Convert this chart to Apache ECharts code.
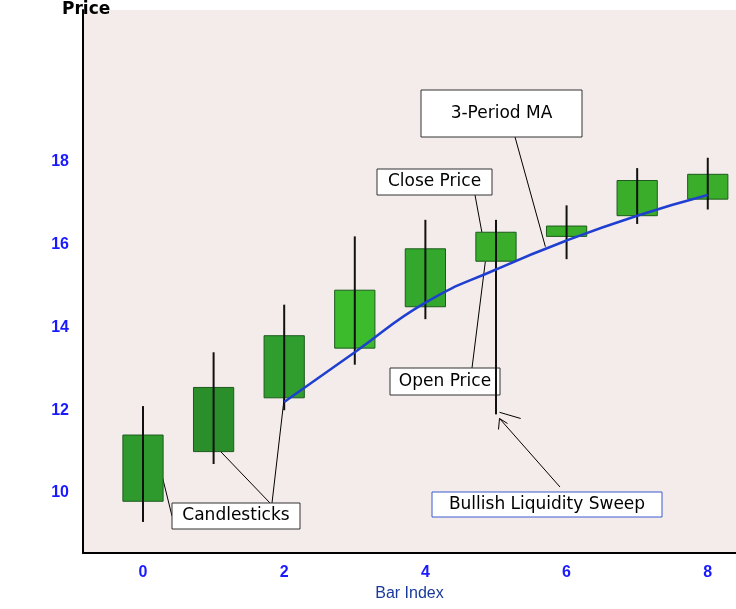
<!DOCTYPE html><html><head><meta charset="utf-8">
<script src="https://cdn.jsdelivr.net/npm/echarts@6/dist/echarts.min.js"></script>
<style>html,body{margin:0;background:#fff}#c{width:736px;height:609px}</style></head><body><div id="c"></div>
<script>
const barIndex=[0,1,2,3,4,5,6,7,8];
const openP =[9.8,11.0,12.3,13.5,14.5,15.6,16.2,16.7,17.1];
const closeP=[11.4,12.55,13.8,14.9,15.9,16.3,16.45,17.55,17.7];
const lowP  =[9.3,10.7,12.0,13.1,14.2,11.9,15.65,16.5,16.85];
const highP =[12.1,13.4,14.55,16.2,16.6,16.6,16.95,17.85,18.1];
const maX=[2,3,4,5,6,7,8];
const maY=[12.2,13.4,14.6,15.4,16.1,16.7,17.2];
const yTicks=[10,12,14,16,18];
const xTicks=[0,2,4,6,8];
const fills=['#2e9a2e','#2a8f2a','#2f9e2f','#3cbc2c','#33a82d','#3aae2a','#3aae2a','#3aae2a','#3aae2a'];
const candles=barIndex.map((x,i)=>[x,openP[i],closeP[i],lowP[i],highP[i]]);
const chart=echarts.init(document.getElementById('c'));
function box(x,y,w,h,text,border){return {type:'group',children:[
 {type:'rect',shape:{x:x,y:y,width:w,height:h},style:{fill:'#fff',stroke:border||'#333',lineWidth:1}},
 {type:'text',style:{x:x+w/2,y:y+h/2,text:text,align:'center',verticalAlign:'middle',font:'17px "DejaVu Sans"',fill:'#000'}}]};}
function ln(x1,y1,x2,y2){return {type:'line',shape:{x1,y1,x2,y2},style:{stroke:'#000',lineWidth:1}};}
chart.setOption({
 animation:false,
 grid:{left:83,top:10,right:0,bottom:56,show:true,backgroundColor:'#f4ecea',borderWidth:0},
 xAxis:{type:'value',min:-0.85,max:8.4,splitLine:{show:false},
  axisLine:{onZero:false,lineStyle:{color:'#000',width:2}},axisTick:{show:false},
  axisLabel:{customValues:xTicks,color:'#1a1aff',fontWeight:'bold',fontSize:16,margin:12},
  name:'Bar Index',nameLocation:'middle',nameGap:32,nameTextStyle:{color:'#1a3a9a',fontSize:16}},
 yAxis:{type:'value',min:8.55,max:21.67,splitLine:{show:false},
  axisLine:{onZero:false,lineStyle:{color:'#000',width:2}},axisTick:{show:false},
  axisLabel:{customValues:yTicks,color:'#1a1aff',fontWeight:'bold',fontSize:16,margin:14}},
 series:[
  {type:'custom',data:candles,renderItem:function(p,api){
    const x=api.value(0),o=api.value(1),c=api.value(2),l=api.value(3),h=api.value(4);
    const hw=(api.coord([0.285,0])[0]-api.coord([0,0])[0]);
    const po=api.coord([x,o]),pc=api.coord([x,c]),pl=api.coord([x,l]),ph=api.coord([x,h]);
    return {type:'group',children:[
     {type:'rect',shape:{x:po[0]-hw,y:pc[1],width:2*hw,height:po[1]-pc[1]},style:{fill:fills[p.dataIndex],stroke:'#1d5a1d',lineWidth:1}},
     {type:'line',shape:{x1:pl[0],y1:pl[1],x2:ph[0],y2:ph[1]},style:{stroke:'#111',lineWidth:2}}]};
  }},
  {type:'line',data:maX.map((x,i)=>[x,maY[i]]),smooth:true,symbol:'none',lineStyle:{color:'#1f3fd0',width:2.5}}
 ]
});
const P=(x,y)=>chart.convertToPixel({gridIndex:0},[x,y]);
function to(x1,y1,pt){return ln(x1,y1,pt[0],pt[1]);}
const tip=P(5.05,11.8), m1=P(5.05,11.95), m2=P(5.35,11.8);
chart.setOption({graphic:[
  {type:'text',left:62,top:1,style:{text:'Price',font:'bold 17px "DejaVu Sans"',fill:'#000'}},
  to(515,137,P(5.7,15.95)),to(475,195,P(4.8,16.3)),to(472,368,P(4.85,15.6)),
  to(172,516,P(0.2,10.9)),to(270,503,P(1.1,11.0)),to(272,503,P(2.0,12.3)),
  to(560,487,tip),ln(tip[0],tip[1],tip[0]-1,tip[1]+11),ln(tip[0],tip[1],tip[0]+8,tip[1]+5),
  ln(m1[0],m1[1],m2[0],m2[1]),
  box(421,90,161,47,'3-Period MA'),box(377,169,115,26,'Close Price'),box(390,368,110,27,'Open Price'),
  box(172,503,128,26,'Candlesticks'),box(432,492,230,25,'Bullish Liquidity Sweep','#3a5ad0')
]});
</script></body></html>
